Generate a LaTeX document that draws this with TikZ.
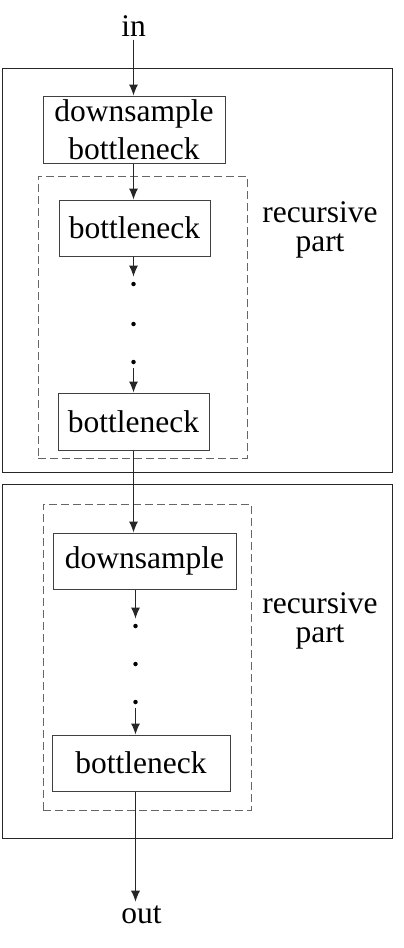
\documentclass[tikz,border=0pt]{standalone}
\usepackage{fontspec}
\setmainfont{Liberation Serif}
\usetikzlibrary{shapes,arrows.meta,calc}
\tikzstyle{line} = [draw, black!85, line width=1pt, -{Latex[length=11pt,width=9pt]}]
\tikzstyle{block} = [draw, black!75, text=black, line width=1pt, rectangle, text centered, minimum height=56pt, inner sep=0pt]
\tikzstyle{dot} = [circle, fill=black, inner sep=0pt, minimum size=4.5pt]
\tikzstyle{stage} = [draw, black!85, line width=1pt, rectangle, inner sep=0pt]
\tikzstyle{part} = [draw, black!60, line width=1pt, dash pattern=on 8pt off 4pt, rectangle, inner sep=0pt]
\tikzstyle{sidetext} = [align=center, font=\fontsize{31.5}{29.5}\selectfont]

\begin{document}
\begin{tikzpicture}[x=1pt, y=-1pt, font=\fontsize{31.5}{38}\selectfont]
        \useasboundingbox (0,0) rectangle (404,948);
        % stages and recursive parts
        \node[stage, minimum width=390pt, minimum height=404pt] (stage1) at (197,270) {};
        \node[stage, minimum width=390pt, minimum height=354pt] (stage2) at (197,661) {};
        \node[part, minimum width=209pt, minimum height=282pt] (part1) at (142.5,317) {};
        \node[part, minimum width=208pt, minimum height=306pt] (part2) at (147,657) {};
        \node[sidetext] (rec1) at (320,230) {recursive\\part};
        \node[sidetext] (rec2) at (320,621) {recursive\\part};
        % first stage
        \node[anchor=base] (in) at (133.5,36) {in};
        \node[block, minimum width=182pt, minimum height=67pt, align=center] (dsb) at (134,129.5) {downsample\\bottleneck};
        \node[block, minimum width=151pt] (b1) at (134.5,228) {bottleneck};
        \node[dot] (dot1) at (133.5,284) {};
        \node[dot] (dot2) at (133.5,324) {};
        \node[dot] (dot3) at (133.5,362) {};
        \node[block, minimum width=151pt, minimum height=57pt] (b2) at (133.5,421.5) {bottleneck};
        % second stage
        \node[block, minimum width=183pt] (ds) at (144.5,561) {downsample};
        \node[dot] (dot4) at (135.5,626) {};
        \node[dot] (dot5) at (135.5,664) {};
        \node[dot] (dot6) at (135.5,702) {};
        \node[block, minimum width=178pt] (b3) at (141,763) {bottleneck};
        \node[anchor=base] (out) at (141.5,923) {out};
        % connectors
        \path[line] (in.south -| dot1) -- (dsb.north -| dot1);
        \path[line] (dsb.south -| dot1) -- (b1.north -| dot1);
        \path[line, shorten >=5pt] (b1.south -| dot1) -- (dot1);
        \path[line, shorten <=4pt] (dot3) -- (b2.north -| dot3);
        \path[line] (b2.south -| dot3) -- (ds.north -| dot3);
        \path[line, shorten >=5pt] (ds.south -| dot4) -- (dot4);
        \path[line, shorten <=4pt] (dot6) -- (b3.north -| dot6);
        \path[line] (b3.south -| dot6) -- (out.north -| dot6);
    \end{tikzpicture}
\end{document}
